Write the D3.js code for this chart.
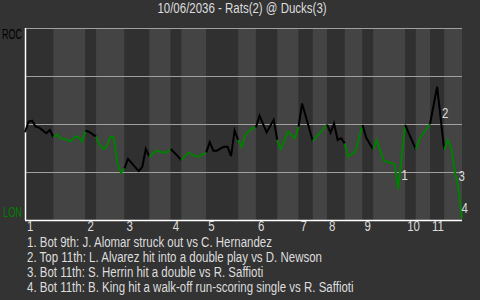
<!DOCTYPE html>
<html>
<head>
<meta charset="utf-8">
<script src="https://cdn.jsdelivr.net/npm/d3@7"></script>
<style>
  body { margin: 0; background: #333333; }
  text { font-family: "Liberation Sans", Arial, sans-serif; font-size: 14px; }
</style>
</head>
<body>
<svg id="wpchart" width="480" height="300"></svg>
<script>
// game info
var gameTitle = "10/06/2036 - Rats(2) @ Ducks(3)";
var awayAbbr = "ROC";
var homeAbbr = "LON";

// event index that closes each half inning (top 1, bot 1, top 2 ...)
var halfEnds = [8, 17, 20, 28, 35, 41, 44, 51, 60, 65, 71, 77, 81, 85, 90, 95, 98, 107, 110, 114, 118, 123];
var innings = ["1", "2", "3", "4", "5", "6", "7", "8", "9", "10", "11"];

// win probability for the away side after each event
var wpEvent = [0, 1, 2, 3, 4, 6, 7, 8,
    9, 10, 11, 13, 14, 15, 16, 17,
    18, 20,
    21, 22, 23, 24, 25, 26, 27, 28,
    29, 32, 33, 34, 35,
    37, 39, 40, 41,
    42, 44,
    46, 48, 49, 51,
    52, 53, 54, 56, 57, 58, 59, 60,
    61, 62, 63, 64, 65,
    66, 68, 70, 71,
    72, 74, 76, 77,
    78, 81,
    83, 85,
    86, 87, 88, 89, 90,
    91, 93, 95,
    96, 98,
    99, 101, 102, 103, 104, 105, 106, 107,
    109, 110,
    111, 114,
    116, 118,
    119, 120, 121, 122, 123];
var wpValue = [0.457, 0.512, 0.517, 0.486, 0.481, 0.452, 0.469, 0.431,
    0.446, 0.426, 0.422, 0.411, 0.434, 0.434, 0.408, 0.465,
    0.460, 0.434,
    0.391, 0.370, 0.382, 0.434, 0.431, 0.295, 0.246, 0.269,
    0.318, 0.255, 0.276, 0.370, 0.330,
    0.361, 0.351, 0.353, 0.370,
    0.352, 0.3125,
    0.351, 0.333, 0.330, 0.352,
    0.405, 0.361, 0.361, 0.382, 0.382, 0.333, 0.465, 0.417,
    0.382, 0.443, 0.461, 0.479, 0.482,
    0.543, 0.457, 0.521, 0.417,
    0.370, 0.460, 0.426, 0.486,
    0.607, 0.411,
    0.453, 0.497,
    0.455, 0.503, 0.417, 0.426, 0.399,
    0.330, 0.356, 0.495,
    0.430, 0.367,
    0.417, 0.310, 0.302, 0.297, 0.292, 0.161, 0.323, 0.495,
    0.411, 0.368,
    0.422, 0.500,
    0.694, 0.365,
    0.417, 0.373, 0.250, 0.167, 0.008];

// key plays, marker spot on the chart
var noteText = [
    "1. Bot 9th: J. Alomar struck out vs C. Hernandez",
    "2. Top 11th: L. Alvarez hit into a double play vs D. Newson",
    "3. Bot 11th: S. Herrin hit a double vs R. Saffioti",
    "4. Bot 11th: B. King hit a walk-off run-scoring single vs R. Saffioti"
];
var noteEvent = [106, 117.4, 122, 122.85];
var noteWp = [0.208, 0.531, 0.203, 0.034];

// narrow text: squeeze a normal face sideways
function narrowText(parent, x, y, str, anchor, squeeze) {
    return parent.append("text")
        .attr("transform", "translate(" + x + "," + y + ") scale(" + (squeeze || 0.82) + ",1)")
        .attr("text-anchor", anchor || "start")
        .text(str);
}

function drawChart() {
    var margin = {top: 28, bottom: 80, left: 25, right: 18};
    var width = 480, height = 300;

    var svg = d3.select("#wpchart");

    var xAxis = d3.scaleLinear()
        .domain([0, halfEnds[halfEnds.length - 1]])
        .range([margin.left, width - margin.right]);
    var yAxis = d3.scaleLinear()
        .domain([0, 1])
        .range([height - margin.bottom, margin.top]);

    // half inning spans
    var halves = halfEnds.map(function(e, i) {
        return {start: i == 0 ? 0 : halfEnds[i - 1], end: e, top: i % 2 == 0};
    });

    svg.append("g").selectAll("rect")
        .data(halves)
        .enter()
        .append("rect")
        .attr("x", d => xAxis(d.start))
        .attr("width", d => xAxis(d.end) - xAxis(d.start))
        .attr("y", yAxis(1))
        .attr("height", yAxis(0) - yAxis(1))
        .attr("fill", d => d.top ? "#303030" : "#444444");

    /* gridlines */
    svg.append("g").selectAll("line")
        .data([0.25, 0.5, 0.75, 1])
        .enter()
        .append("line")
        .attr("x1", xAxis(0))
        .attr("x2", xAxis.range()[1])
        .attr("y1", d => yAxis(d) + 0.5)
        .attr("y2", d => yAxis(d) + 0.5)
        .attr("stroke", "#a0a0a0")
        .attr("stroke-width", 1);

    // axes as plain white lines
    svg.append("line")
        .attr("x1", xAxis(0) + 0.5).attr("x2", xAxis(0) + 0.5)
        .attr("y1", yAxis(1)).attr("y2", yAxis(0))
        .attr("stroke", "#ffffff").attr("stroke-width", 1.5);
    svg.append("line")
        .attr("x1", xAxis(0)).attr("x2", xAxis.range()[1])
        .attr("y1", yAxis(0) + 0.5).attr("y2", yAxis(0) + 0.5)
        .attr("stroke", "#ffffff").attr("stroke-width", 1.5);

    // win prob line, one path per half inning
    var pts = wpEvent.map((e, i) => ({e: e, wp: wpValue[i]}));
    var line = d3.line()
        .x(d => xAxis(d.e))
        .y(d => yAxis(d.wp));

    svg.append("g").selectAll("path")
        .data(halves)
        .enter()
        .append("path")
        .attr("d", h => line(pts.filter(p => p.e >= h.start && p.e <= h.end)))
        .attr("fill", "none")
        .attr("stroke", h => h.top ? "#000000" : "#008000")
        .attr("stroke-width", 2)
        .attr("stroke-linejoin", "miter");

    var txt = svg.append("g").attr("fill", "#dddddd");

    // play markers
    noteEvent.forEach(function(e, i) {
        narrowText(txt, xAxis(e), yAxis(noteWp[i]), String(i + 1));
    });

    // inning labels at start of each top half
    innings.forEach(function(inn, i) {
        narrowText(txt, xAxis(halves[i * 2].start) + 2, yAxis(0) + 11, inn);
    });

    // team labels
    narrowText(svg, margin.left - 3, yAxis(1) + 11, awayAbbr, "end", 0.64)
        .attr("fill", "#000000");
    narrowText(svg, margin.left - 3, yAxis(0) - 3, homeAbbr, "end", 0.66)
        .attr("fill", "#008000");

    narrowText(txt, width / 2 + 2, 13, gameTitle, "middle");

    noteText.forEach(function(n, i) {
        narrowText(txt, 27, yAxis(0) + 27 + i * 15, n);
    });
}

drawChart();
</script>
</body>
</html>
